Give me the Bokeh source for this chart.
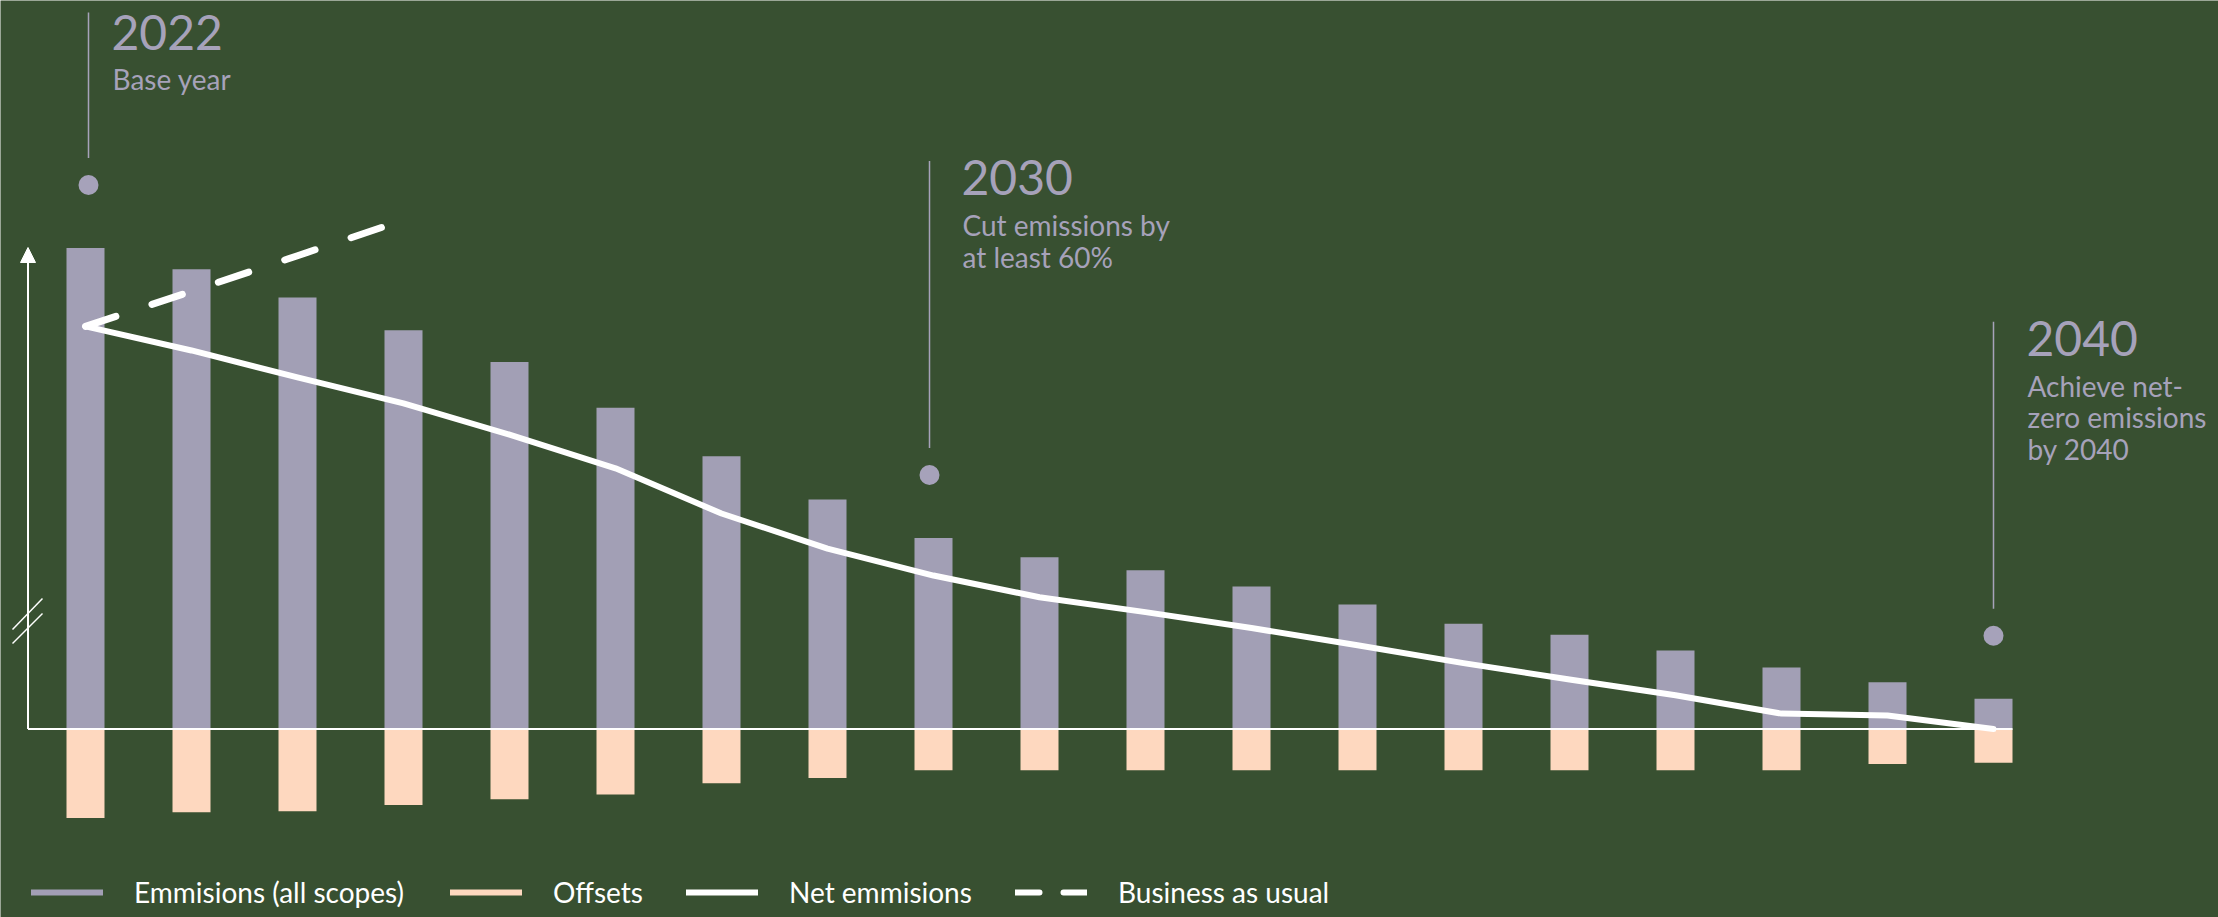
import numpy as np
from bokeh.plotting import figure
from bokeh.models import ColumnDataSource, Range1d, Arrow, NormalHead, Legend, LegendItem
from bokeh.core.properties import value
from bokeh.embed import file_html
from bokeh.resources import INLINE

# ---------------- data ----------------
years = list(range(2022, 2041))
emissions = [100.0, 95.6, 89.7, 82.9, 76.3, 66.8, 56.7, 47.7, 39.7, 35.7,
             33.0, 29.6, 25.9, 21.9, 19.6, 16.3, 12.8, 9.7, 6.3]
offsets = [18.5, 17.3, 17.1, 15.8, 14.6, 13.6, 11.3, 10.2, 8.6, 8.6,
           8.6, 8.6, 8.6, 8.6, 8.6, 8.6, 8.6, 7.3, 7.0]
net = [83.7, 78.7, 73.1, 67.7, 61.2, 54.2, 44.8, 37.5, 31.9, 27.4,
       24.3, 21.0, 17.4, 13.7, 10.3, 7.0, 3.2, 2.8, 0.0]
bau_years = [2022, 2023, 2024, 2025]
bau = [83.7, 91.0, 98.4, 105.8]

milestone_years = [2022, 2030, 2040]
milestone_titles = ["2022", "2030", "2040"]
milestone_notes = ["Base year", "Cut emissions by\nat least 60%", "Achieve net-\nzero emissions\nby 2040"]

legend_labels = ["Emmisions (all scopes)", "Offsets", "Net emmisions", "Business as usual"]

# ---------------- style / layout ----------------
BG = "#385031"
BAR = "#a29fb5"
PEACH = "#fed8bf"
TEXT = "#a6a2ba"
WHITE = "#ffffff"
FONT_NAME = "Lato"
FONT = value(FONT_NAME)

W, H = 2218, 917
X0 = 85.0      # canvas x of the 2022 bar centre
PXY = 106.0    # pixels per year
Y0 = 728.5     # canvas y of zero
PXU = 4.81     # pixels per unit
BASE_SHIFT = 0.36  # alphabetic baseline correction (em)
MS_NUDGE_PX = [3, -4, 0]       # small horizontal nudges of milestone markers
MS_TEXT_OFF_PX = [23, 32, 33]  # text offset from milestone marker


def dx(cx):
    return 2022 + (cx - X0) / PXY


def dy(cy):
    return (Y0 - cy) / PXU


p = figure(width=W, height=H, output_backend="svg", toolbar_location=None,
           x_range=Range1d(dx(0), dx(W)), y_range=Range1d(dy(H), dy(0)),
           x_axis_location=None, y_axis_location=None, min_border=0,
           background_fill_color=BG, border_fill_color=BG, outline_line_color=None)
p.xgrid.visible = False
p.ygrid.visible = False

src = ColumnDataSource(dict(year=years, em=emissions, neg=[-o for o in offsets], net=net))

bar_w = 38 / PXY
p.vbar(x="year", top="em", bottom=0, width=bar_w, source=src, fill_color=BAR, line_color=None)
p.vbar(x="year", top=0, bottom="neg", width=bar_w, source=src, fill_color=PEACH, line_color=None)

# axes
p.segment(x0=[dx(27.5)], y0=[0], x1=[dx(2012)], y1=[0], line_color=WHITE, line_width=2)
p.add_layout(Arrow(end=NormalHead(size=15, fill_color=WHITE, line_color=WHITE, line_width=1),
                   x_start=dx(27.5), y_start=0, x_end=dx(27.5), y_end=dy(247),
                   line_color=WHITE, line_width=2))
p.segment(x0=[dx(42), dx(42)], y0=[dy(598), dy(613)], x1=[dx(12), dx(12)], y1=[dy(629), dy(643)],
          line_color=WHITE, line_width=1.5)

# lines
p.line(bau_years, bau, line_color=WHITE, line_width=7, line_dash="32 38", line_cap="round")
p.line(x="year", y="net", source=src, line_color=WHITE, line_width=6, line_cap="round", line_join="round")

# milestones
TITLE_FS, NOTE_FS = 48, 28
em_by_year = dict(zip(years, emissions))
for yr, title, note, nudge, toff in zip(milestone_years, milestone_titles, milestone_notes,
                                        MS_NUDGE_PX, MS_TEXT_OFF_PX):
    xm = yr + nudge / PXY
    d = em_by_year[yr] + 63 / PXU
    bottom = d + 27 / PXU
    top = min(bottom + 287 / PXU, dy(12))
    base = min(top - 34 / PXU, dy(49))
    p.segment(x0=[xm], y0=[bottom], x1=[xm], y1=[top], line_color=TEXT, line_width=1.5)
    p.scatter(x=[xm], y=[d], size=20, fill_color=TEXT, line_color=None)
    p.text(x=[xm], y=[base + BASE_SHIFT * TITLE_FS / PXU], text=[title], text_font=FONT,
           text_font_size=f"{TITLE_FS}px", text_color=TEXT, text_baseline="alphabetic",
           text_align="left", x_offset=toff)
    lines = note.split("\n")
    p.text(x=[xm] * len(lines),
           y=[base - (40 + 31.7 * i) / PXU + BASE_SHIFT * NOTE_FS / PXU for i in range(len(lines))],
           text=lines, text_font=FONT, text_font_size=f"{NOTE_FS}px", text_color=TEXT,
           text_baseline="alphabetic", text_align="left", x_offset=toff + 1)

# legend (one legend per item to place each exactly)
leg_specs = [
    dict(color=BAR, dash="solid"),
    dict(color=PEACH, dash="solid"),
    dict(color=WHITE, dash="solid"),
    dict(color=WHITE, dash="24 24"),
]
leg_x = [31, 450, 686, 1015]
for label, spec, lxp in zip(legend_labels, leg_specs, leg_x):
    r = p.line(x=[np.nan], y=[np.nan], line_color=spec["color"], line_width=6, line_cap="round",
               line_dash=spec["dash"])
    leg = Legend(items=[LegendItem(label=label, renderers=[r])], location=(lxp, 8),
                 orientation="horizontal", background_fill_alpha=0, border_line_alpha=0,
                 label_text_color=WHITE, label_text_font=FONT_NAME, label_text_font_size="28px",
                 glyph_width=72, glyph_height=24, label_height=24, label_standoff=31,
                 padding=0, margin=0, spacing=0)
    p.add_layout(leg)

open("out.html", "w").write(file_html(p, INLINE))
